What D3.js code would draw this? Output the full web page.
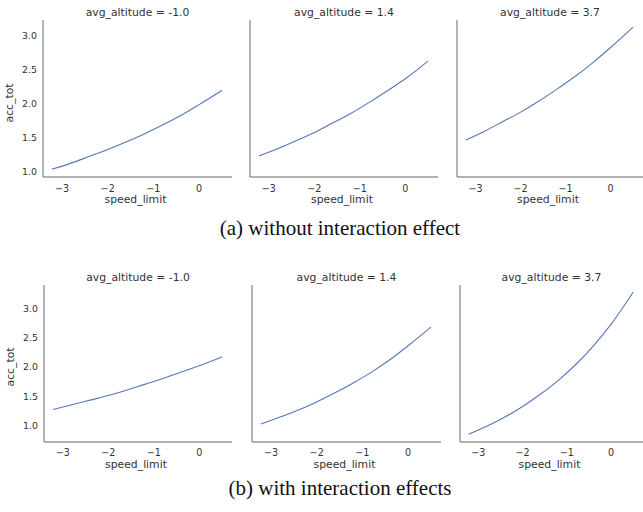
<!DOCTYPE html>
<head>
    <meta charset="utf-8">
    <script src="https://d3js.org/d3.v7.min.js"></script>
    <style>
        body { margin: 0; background: white; }
        text { font-family: "DejaVu Sans", sans-serif; fill: #333; }
        .caption { font-family: "Liberation Serif", "Times New Roman", serif; fill: #111; }
    </style>
</head>
<body>
<svg width="643" height="512"></svg>

<script>
    // values
    var altitudes = ["-1.0", "1.4", "3.7"];
    var speed = [-3.22, -2.8, -2.4, -2.0, -1.6, -1.2, -0.8, -0.4, 0.0, 0.5];

    // (a) without interaction effect
    var accA1 = [1.04, 1.13, 1.23, 1.33, 1.44, 1.56, 1.69, 1.83, 1.99, 2.20];
    var accA2 = [1.235, 1.345, 1.46, 1.58, 1.72, 1.86, 2.02, 2.19, 2.37, 2.63];
    var accA3 = [1.47, 1.60, 1.74, 1.88, 2.04, 2.215, 2.40, 2.605, 2.83, 3.13];

    // (b) with interaction effects
    var accB1 = [1.27, 1.35, 1.43, 1.51, 1.60, 1.70, 1.80, 1.91, 2.02, 2.17];
    var accB2 = [1.02, 1.14, 1.26, 1.40, 1.555, 1.725, 1.91, 2.12, 2.36, 2.68];
    var accB3 = [0.846, 0.986, 1.14, 1.32, 1.53, 1.765, 2.04, 2.36, 2.73, 3.28];

    var xTicks = [-3, -2, -1, 0];
    var yTicks = [1.0, 1.5, 2.0, 2.5, 3.0];

    var captions = ["(a) without interaction effect", "(b) with interaction effects"];

    var svg = d3.select("svg");

    var rows = [
        {
            series: [accA1, accA2, accA3],
            panels: [[43, 232], [250, 438], [457, 643]],
            top: 20, bottom: 177, ydom: [0.926, 3.235],
            titleY: 16, tickY: 192, labelY: 203, ylabX: 13, ylabY: 103,
            caption: captions[0], capX: 340, capY: 235
        },
        {
            series: [accB1, accB2, accB3],
            panels: [[44, 232], [252, 441], [460, 643]],
            top: 285, bottom: 442, ydom: [0.714, 3.40],
            titleY: 281, tickY: 456, labelY: 468, ylabX: 14, ylabY: 367,
            caption: captions[1], capX: 340, capY: 495
        }
    ];

    rows.forEach(function(row) {
        var y = d3.scaleLinear().domain(row.ydom).range([row.bottom, row.top]);

        row.panels.forEach(function(p, i) {
            var x = d3.scaleLinear().domain([-3.415, 0.72]).range(p);
            var g = svg.append("g");

            // left and bottom spines only
            g.append("line")
                .attr("x1", p[0]).attr("x2", p[0])
                .attr("y1", row.top).attr("y2", row.bottom)
                .attr("stroke", "#666").attr("stroke-width", 1);
            g.append("line")
                .attr("x1", p[0]).attr("x2", p[1])
                .attr("y1", row.bottom).attr("y2", row.bottom)
                .attr("stroke", "#666").attr("stroke-width", 1);

            g.selectAll(".xt")
                .data(xTicks)
                .enter().append("text")
                .attr("x", function(d) { return x(d); })
                .attr("y", row.tickY)
                .attr("text-anchor", "middle")
                .attr("font-size", 9.6)
                .text(function(d) { return d3.format("d")(d); });

            g.append("text")
                .attr("x", (p[0] + p[1]) / 2 - 2)
                .attr("y", row.labelY)
                .attr("text-anchor", "middle")
                .attr("font-size", 10.8)
                .text("speed_limit");

            g.append("text")
                .attr("x", (p[0] + p[1]) / 2)
                .attr("y", row.titleY)
                .attr("text-anchor", "middle")
                .attr("font-size", 10.8)
                .text("avg_altitude = " + altitudes[i]);

            if (i == 0) {
                g.selectAll(".yt")
                    .data(yTicks)
                    .enter().append("text")
                    .attr("x", p[0] - 6)
                    .attr("y", function(d) { return y(d) + 3.5; })
                    .attr("text-anchor", "end")
                    .attr("font-size", 9.4)
                    .text(function(d) { return d.toFixed(1); });

                g.append("text")
                    .attr("transform", "translate(" + row.ylabX + "," + row.ylabY + ") rotate(-90)")
                    .attr("text-anchor", "middle")
                    .attr("font-size", 10.8)
                    .text("acc_tot");
            }

            var line = d3.line()
                .x(function(d, j) { return x(speed[j]); })
                .y(function(d) { return y(d); })
                .curve(d3.curveMonotoneX);

            g.append("path")
                .datum(row.series[i])
                .attr("fill", "none")
                .attr("stroke", "#5677b8")
                .attr("stroke-width", 1.1)
                .attr("d", line);
        });

        svg.append("text")
            .attr("class", "caption")
            .attr("x", row.capX)
            .attr("y", row.capY)
            .attr("text-anchor", "middle")
            .attr("font-size", 21)
            .text(row.caption);
    });
</script>
</body>
